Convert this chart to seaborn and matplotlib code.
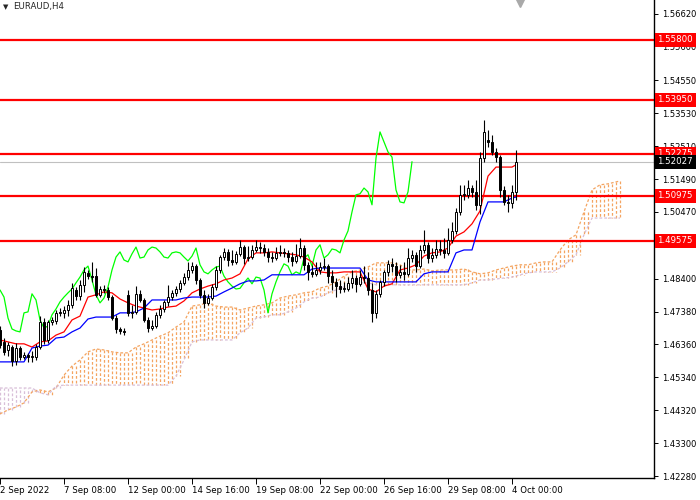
import numpy as np
import seaborn as sns
import matplotlib
matplotlib.use("Agg")
import matplotlib.pyplot as plt
import matplotlib.transforms as mtransforms

# EURAUD H4 candles, one entry per bar (2 Sep 16:00 .. 4 Oct 04:00)
OPEN = [1.4681, 1.4644, 1.4619, 1.4628, 1.4585, 1.4625, 1.4597, 1.4603, 1.4597, 1.4597,
        1.4628, 1.4706, 1.4650, 1.4706, 1.4709, 1.4734, 1.4734, 1.4743, 1.4759, 1.4805,
        1.4786, 1.4821, 1.4858, 1.4848, 1.4848, 1.4790, 1.4808, 1.4805, 1.4783, 1.4718,
        1.4684, 1.4678, 1.4790, 1.4734, 1.4737, 1.4793, 1.4774, 1.4712, 1.4687, 1.4693,
        1.4728, 1.4746, 1.4768, 1.4783, 1.4796, 1.4808, 1.4827, 1.4845, 1.4867, 1.4879,
        1.4836, 1.4790, 1.4765, 1.4780, 1.4814, 1.4867, 1.4907, 1.4923, 1.4898, 1.4892,
        1.4917, 1.4938, 1.4904, 1.4907, 1.4929, 1.4938, 1.4935, 1.4923, 1.4907, 1.4904,
        1.4920, 1.4923, 1.4920, 1.4907, 1.4895, 1.4910, 1.4935, 1.4883, 1.4861, 1.4855,
        1.4867, 1.4876, 1.4879, 1.4848, 1.4830, 1.4817, 1.4808, 1.4808, 1.4827, 1.4842,
        1.4824, 1.4845, 1.4842, 1.4805, 1.4734, 1.4793, 1.4830, 1.4861, 1.4886, 1.4879,
        1.4852, 1.4861, 1.4855, 1.4904, 1.4914, 1.4879, 1.4929, 1.4945, 1.4904, 1.4914,
        1.4932, 1.4929, 1.4920, 1.4960, 1.4988, 1.5047, 1.5100, 1.5100, 1.5121, 1.5109,
        1.5069, 1.5214, 1.5270, 1.5264, 1.5233, 1.5217, 1.5115, 1.5078, 1.5075, 1.5109]
HIGH = [1.4693, 1.4656, 1.4644, 1.4634, 1.4641, 1.4631, 1.4613, 1.4610, 1.4616, 1.4638,
        1.4724, 1.4718, 1.4712, 1.4721, 1.4743, 1.4749, 1.4755, 1.4774, 1.4827, 1.4814,
        1.4836, 1.4876, 1.4867, 1.4892, 1.4873, 1.4817, 1.4821, 1.4814, 1.4790, 1.4728,
        1.4690, 1.4687, 1.4805, 1.4759, 1.4817, 1.4805, 1.4780, 1.4721, 1.4712, 1.4737,
        1.4759, 1.4774, 1.4821, 1.4805, 1.4817, 1.4836, 1.4858, 1.4892, 1.4892, 1.4886,
        1.4842, 1.4805, 1.4793, 1.4824, 1.4879, 1.4914, 1.4935, 1.4932, 1.4929, 1.4926,
        1.4960, 1.4945, 1.4941, 1.4945, 1.4960, 1.4954, 1.4948, 1.4935, 1.4923, 1.4938,
        1.4945, 1.4935, 1.4929, 1.4923, 1.4948, 1.4966, 1.4945, 1.4892, 1.4883, 1.4892,
        1.4892, 1.4904, 1.4886, 1.4867, 1.4842, 1.4836, 1.4830, 1.4845, 1.4867, 1.4852,
        1.4867, 1.4879, 1.4861, 1.4827, 1.4805, 1.4836, 1.4867, 1.4898, 1.4904, 1.4892,
        1.4883, 1.4892, 1.4935, 1.4929, 1.4923, 1.4945, 1.4991, 1.4954, 1.4935, 1.4960,
        1.4960, 1.4966, 1.4997, 1.5016, 1.5059, 1.5131, 1.5131, 1.5146, 1.5131, 1.5146,
        1.5233, 1.5332, 1.5301, 1.5286, 1.5245, 1.5224, 1.5127, 1.5100, 1.5131, 1.5239]
LOW = [1.4625, 1.4603, 1.4600, 1.4569, 1.4573, 1.4588, 1.4591, 1.4582, 1.4582, 1.4588,
       1.4622, 1.4638, 1.4641, 1.4697, 1.4700, 1.4724, 1.4718, 1.4724, 1.4749, 1.4774,
       1.4774, 1.4799, 1.4839, 1.4830, 1.4783, 1.4783, 1.4796, 1.4774, 1.4712, 1.4672,
       1.4669, 1.4665, 1.4724, 1.4718, 1.4731, 1.4768, 1.4706, 1.4675, 1.4681, 1.4687,
       1.4718, 1.4737, 1.4755, 1.4774, 1.4786, 1.4799, 1.4821, 1.4836, 1.4858, 1.4824,
       1.4780, 1.4749, 1.4759, 1.4774, 1.4805, 1.4858, 1.4898, 1.4879, 1.4883, 1.4886,
       1.4910, 1.4886, 1.4895, 1.4901, 1.4923, 1.4920, 1.4910, 1.4892, 1.4892, 1.4898,
       1.4910, 1.4907, 1.4892, 1.4879, 1.4889, 1.4904, 1.4867, 1.4836, 1.4845, 1.4848,
       1.4855, 1.4867, 1.4827, 1.4805, 1.4783, 1.4796, 1.4799, 1.4802, 1.4811, 1.4799,
       1.4817, 1.4827, 1.4790, 1.4706, 1.4718, 1.4783, 1.4817, 1.4848, 1.4861, 1.4830,
       1.4842, 1.4836, 1.4848, 1.4892, 1.4861, 1.4873, 1.4920, 1.4889, 1.4892, 1.4904,
       1.4914, 1.4904, 1.4914, 1.4951, 1.4979, 1.5038, 1.5084, 1.5090, 1.5093, 1.5053,
       1.5041, 1.5202, 1.5248, 1.5224, 1.5202, 1.5093, 1.5069, 1.5047, 1.5059, 1.5084]
CLOSE = [1.4634, 1.4613, 1.4634, 1.4585, 1.4625, 1.4597, 1.4603, 1.4597, 1.4600, 1.4628,
         1.4706, 1.4650, 1.4706, 1.4712, 1.4734, 1.4737, 1.4743, 1.4759, 1.4811, 1.4786,
         1.4821, 1.4861, 1.4848, 1.4845, 1.4790, 1.4808, 1.4805, 1.4783, 1.4718, 1.4684,
         1.4678, 1.4675, 1.4734, 1.4737, 1.4793, 1.4774, 1.4712, 1.4687, 1.4693, 1.4728,
         1.4746, 1.4768, 1.4783, 1.4796, 1.4808, 1.4827, 1.4845, 1.4867, 1.4879, 1.4836,
         1.4790, 1.4765, 1.4780, 1.4814, 1.4867, 1.4907, 1.4923, 1.4898, 1.4892, 1.4917,
         1.4938, 1.4904, 1.4907, 1.4929, 1.4938, 1.4935, 1.4923, 1.4907, 1.4904, 1.4920,
         1.4923, 1.4920, 1.4907, 1.4895, 1.4910, 1.4935, 1.4883, 1.4861, 1.4855, 1.4867,
         1.4876, 1.4879, 1.4848, 1.4830, 1.4817, 1.4808, 1.4810, 1.4827, 1.4842, 1.4824,
         1.4845, 1.4842, 1.4805, 1.4734, 1.4793, 1.4830, 1.4861, 1.4886, 1.4879, 1.4852,
         1.4861, 1.4855, 1.4904, 1.4914, 1.4879, 1.4929, 1.4945, 1.4904, 1.4914, 1.4932,
         1.4929, 1.4920, 1.4960, 1.4988, 1.5047, 1.5100, 1.5103, 1.5121, 1.5109, 1.5069,
         1.5214, 1.5295, 1.5264, 1.5233, 1.5217, 1.5115, 1.5078, 1.5075, 1.5109, 1.52027]

# Ichimoku lines read every second bar (plus the last bar)
TENKAN = [1.4650, 1.4644, 1.4638, 1.4638, 1.4628, 1.4644, 1.4647, 1.4665, 1.4675, 1.4712,
          1.4724, 1.4783, 1.4790, 1.4799, 1.4796, 1.4777, 1.4765, 1.4755, 1.4749, 1.4743,
          1.4746, 1.4752, 1.4755, 1.4771, 1.4796, 1.4808, 1.4817, 1.4824, 1.4836, 1.4842,
          1.4855, 1.4901, 1.4920, 1.4920, 1.4923, 1.4920, 1.4917, 1.4914, 1.4907, 1.4892,
          1.4861, 1.4858, 1.4858, 1.4861, 1.4861, 1.4861, 1.4808, 1.4799, 1.4817, 1.4824,
          1.4867, 1.4873, 1.4883, 1.4910, 1.4920, 1.4923, 1.4935, 1.4972, 1.4985, 1.5010,
          1.5050, 1.5158, 1.5186, 1.5186, 1.5186, 1.5193]
KIJUN = [1.4582, 1.4582, 1.4582, 1.4582, 1.4625, 1.4631, 1.4634, 1.4656, 1.4659, 1.4675,
         1.4687, 1.4715, 1.4721, 1.4721, 1.4721, 1.4734, 1.4734, 1.4737, 1.4749, 1.4774,
         1.4774, 1.4774, 1.4774, 1.4780, 1.4783, 1.4783, 1.4783, 1.4786, 1.4799, 1.4811,
         1.4824, 1.4833, 1.4833, 1.4836, 1.4852, 1.4852, 1.4852, 1.4852, 1.4852, 1.4870,
         1.4873, 1.4873, 1.4873, 1.4873, 1.4873, 1.4873, 1.4836, 1.4830, 1.4830, 1.4830,
         1.4830, 1.4830, 1.4830, 1.4855, 1.4861, 1.4861, 1.4861, 1.4920, 1.4929, 1.4929,
         1.5016, 1.5078, 1.5078, 1.5078, 1.5090, 1.5093]

# Senkou spans (already shifted 26 bars ahead), every second bar plus the last
SENKOU_A = [1.4421, 1.4433, 1.4442, 1.4455, 1.4489, 1.4495, 1.4489, 1.4501, 1.4541, 1.4569,
            1.4588, 1.4613, 1.4622, 1.4619, 1.4613, 1.4610, 1.4610, 1.4628, 1.4638, 1.4650,
            1.4662, 1.4672, 1.4690, 1.4706, 1.4755, 1.4759, 1.4765, 1.4755, 1.4752, 1.4752,
            1.4743, 1.4749, 1.4755, 1.4759, 1.4765, 1.4780, 1.4786, 1.4790, 1.4796, 1.4799,
            1.4811, 1.4817, 1.4830, 1.4848, 1.4861, 1.4867, 1.4876, 1.4889, 1.4889, 1.4889,
            1.4883, 1.4867, 1.4867, 1.4870, 1.4864, 1.4867, 1.4867, 1.4867, 1.4870, 1.4861,
            1.4855, 1.4858, 1.4867, 1.4873, 1.4879, 1.4883, 1.4883, 1.4889, 1.4892, 1.4892,
            1.4929, 1.4960, 1.4976, 1.5047, 1.5115, 1.5131, 1.5134, 1.5140, 1.5143]
SENKOU_B = [1.4501, 1.4501, 1.4501, 1.4501, 1.4501, 1.4486, 1.4480, 1.4507, 1.4510, 1.4510,
            1.4510, 1.4510, 1.4510, 1.4510, 1.4510, 1.4510, 1.4510, 1.4510, 1.4510, 1.4510,
            1.4510, 1.4510, 1.4538, 1.4588, 1.4644, 1.4650, 1.4650, 1.4650, 1.4650, 1.4650,
            1.4672, 1.4687, 1.4718, 1.4721, 1.4728, 1.4728, 1.4737, 1.4749, 1.4768, 1.4780,
            1.4783, 1.4796, 1.4805, 1.4814, 1.4827, 1.4827, 1.4827, 1.4821, 1.4821, 1.4821,
            1.4821, 1.4821, 1.4821, 1.4821, 1.4821, 1.4821, 1.4821, 1.4821, 1.4821, 1.4827,
            1.4836, 1.4836, 1.4839, 1.4842, 1.4845, 1.4852, 1.4858, 1.4861, 1.4861, 1.4861,
            1.4873, 1.4892, 1.4914, 1.4976, 1.5028, 1.5028, 1.5028, 1.5028, 1.5028]

LEVELS = [1.55800, 1.53950, 1.52275, 1.50975, 1.49575]
LAST_PRICE = 1.52027
# 1.49450 sits fully under the 1.49575 box in the chart, so it is left out
PRICE_TICKS = [1.56620, 1.55600, 1.54550, 1.53530, 1.52510, 1.51490, 1.50470,
               1.48400, 1.47380, 1.46360, 1.45340, 1.44320, 1.43300, 1.42280]
TICK_BARS = [0, 16, 32, 48, 64, 80, 96, 112, 128]
TICK_LABELS = ["2 Sep 2022", "7 Sep 08:00", "12 Sep 00:00", "14 Sep 16:00", "19 Sep 08:00",
               "22 Sep 00:00", "26 Sep 16:00", "29 Sep 08:00", "4 Oct 00:00"]
SYMBOL = "EURAUD,H4"

SANDY = "#F4A460"
THISTLE = "#D8BFD8"

sns.set_style("white")
plt.rcParams["font.family"] = ["DejaVu Sans"]

fig = plt.figure(figsize=(7, 5), dpi=100)
ax = fig.add_axes([0, 22 / 500, 654 / 700, 478 / 500])

o = np.array(OPEN)
h = np.array(HIGH)
l = np.array(LOW)
c = np.array(CLOSE)
bars = np.arange(len(c))

# cloud: dotted vertical strokes between the two spans
span_bars = np.array(list(range(0, 2 * (len(SENKOU_A) - 1), 2)) + [len(c) - 1 + 26])
sa = np.array(SENKOU_A)
sb = np.array(SENKOU_B)
xs = np.concatenate([span_bars, span_bars[:-2] + 1])
ya = np.concatenate([sa, sa[:-2]])
yb = np.concatenate([sb, sb[:-2]])
cols = [SANDY if a >= b else THISTLE for a, b in zip(ya, yb)]
ax.vlines(xs, ya, yb, colors=cols, linestyles=(0, (2.2, 1.6)), lw=0.9, zorder=1)
sns.lineplot(x=span_bars, y=sa, color=SANDY, lw=0.9, ls=(0, (2.2, 1.6)), ax=ax, zorder=1)
sns.lineplot(x=span_bars, y=sb, color=THISTLE, lw=0.9, ls=(0, (2.2, 1.6)), ax=ax, zorder=1)

# horizontal levels
for lev in LEVELS:
    ax.axhline(lev, color="#FF0000", lw=1.6, zorder=2)
ax.axhline(LAST_PRICE, color="#C0C0C0", lw=0.8, zorder=2)

# chikou, tenkan, kijun
sns.lineplot(x=bars[:-26], y=c[26:], color="#00FF00", lw=0.9, ax=ax, zorder=3)
line_bars = list(range(0, len(c), 2)) + [len(c) - 1]
sns.lineplot(x=line_bars, y=TENKAN, color="#FF0000", lw=0.9, ax=ax, zorder=3)
sns.lineplot(x=line_bars, y=KIJUN, color="#0000FF", lw=0.9, ax=ax, zorder=3)

# candles
up = c >= o
ax.vlines(bars, l, h, color="black", lw=0.8, zorder=4)
ax.bar(bars[up], (c - o)[up], bottom=o[up], width=0.6, color="white",
       edgecolor="black", lw=0.7, zorder=5)
ax.bar(bars[~up], (o - c)[~up], bottom=c[~up], width=0.6, color="black",
       edgecolor="black", lw=0.7, zorder=5)

ax.set_xlim(0, 163.5)
ax.set_ylim(1.4222, 1.5704)

for side in ["left", "top"]:
    ax.spines[side].set_visible(False)
for side in ["right", "bottom"]:
    ax.spines[side].set_color("black")
    ax.spines[side].set_linewidth(1)

ax.yaxis.tick_right()
ax.set_yticks(PRICE_TICKS)
ax.set_yticklabels([f"{v:.5f}" for v in PRICE_TICKS])
ax.tick_params(axis="y", right=True, left=False, length=3, width=0.7, pad=3,
               labelsize=6, colors="black")
ax.set_xticks(TICK_BARS)
ax.set_xticklabels(TICK_LABELS, ha="left")
ax.tick_params(axis="x", bottom=True, length=4, width=0.7, pad=2, labelsize=6.2,
               colors="black")
ax.set_xlabel("")
ax.set_ylabel("")
ax.grid(False)

# price boxes on the right scale
ytr = ax.get_yaxis_transform()
for lev in LEVELS:
    ax.annotate(f"{lev:.5f}", xy=(1, lev), xycoords=ytr, xytext=(2.5, 0),
                textcoords="offset points", ha="left", va="center", fontsize=6.2,
                color="white", annotation_clip=False, zorder=10,
                bbox=dict(boxstyle="square,pad=0.3", fc="#FF0000", ec="none"))
ax.annotate(f"{LAST_PRICE:.5f}", xy=(1, LAST_PRICE), xycoords=ytr, xytext=(2.5, 0),
            textcoords="offset points", ha="left", va="center", fontsize=6.2,
            color="white", annotation_clip=False, zorder=10,
            bbox=dict(boxstyle="square,pad=0.3", fc="black", ec="none"))

# chart shift marker at the top
btr = mtransforms.blended_transform_factory(ax.transData, ax.transAxes)
ax.plot([130], [0.993], marker="v", ms=6, color="#A9A9A9", transform=btr,
        clip_on=False, zorder=10)

fig.text(3 / 700, 1 - 7 / 500, "\u25BC", fontsize=5, va="center", ha="left")
fig.text(13 / 700, 1 - 7 / 500, SYMBOL, fontsize=6.2, va="center", ha="left")

fig.savefig("out.png", dpi=100, facecolor="white")
